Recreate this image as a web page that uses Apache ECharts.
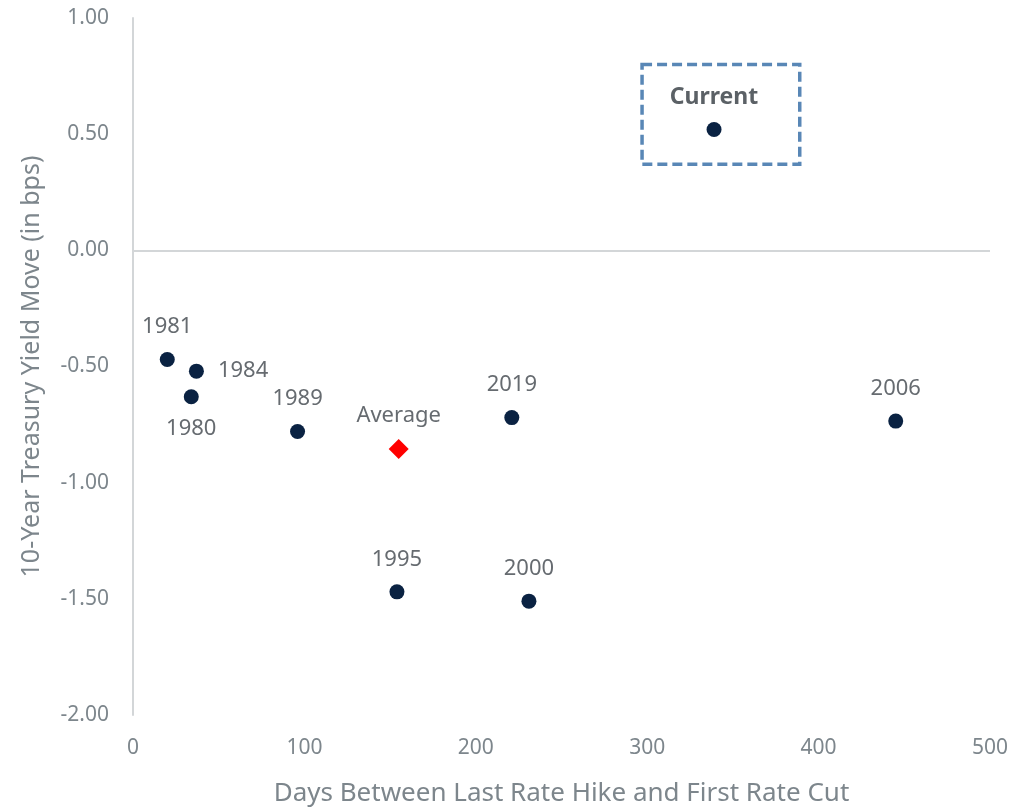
<!DOCTYPE html>
<html>
<head>
<meta charset="utf-8">
<script src="https://cdn.jsdelivr.net/npm/echarts@6/dist/echarts.min.js"></script>
<style>
  html, body { margin: 0; padding: 0; background: #ffffff; }
  #chart { width: 1013px; height: 812px; }
</style>
</head>
<body>
<div id="chart"></div>
<script>
// Easing cycles: days from last hike to first cut vs. 10Y yield move
const cycleLabels = ['1981', '1984', '1980', '1989', '1995', '2019', '2000', '2006'];
const cycleDays   = [20, 37, 34, 96, 154, 221, 231, 445];
const cycleMoves  = [-0.47, -0.52, -0.63, -0.78, -1.47, -0.72, -1.51, -0.735];
const cycleLabelPos = ['top', 'right', 'bottom', 'top', 'top', 'top', 'top', 'top'];

const averageLabel = 'Average';
const averageDays = 155;
const averageMove = -0.855;

const currentLabel = 'Current';
const currentDays = 339;
const currentMove = 0.52;
// highlight box around the current cycle, in data units
const currentBoxX = [297, 389];
const currentBoxY = [0.80, 0.37];

const xTicks = { min: 0, max: 500, interval: 100 };
const yTicks = { min: -2, max: 1, interval: 0.5 };

const FONT = '"Noto Sans", sans-serif';
const axisGray = '#7d868c';
const labelGray = '#666b70';
const dotColor = '#0a2242';

const chart = echarts.init(document.getElementById('chart'), null, { renderer: 'canvas' });

const cyclePoints = cycleDays.map((d, i) => ({
  value: [d, cycleMoves[i]],
  name: cycleLabels[i],
  label: { position: cycleLabelPos[i] }
}));

chart.setOption({
  animation: false,
  textStyle: { fontFamily: FONT },
  grid: { left: 133, right: 23, top: 18, bottom: 96, containLabel: false },
  xAxis: {
    type: 'value',
    min: xTicks.min, max: xTicks.max, interval: xTicks.interval,
    name: 'Days Between Last Rate Hike and First Rate Cut',
    nameLocation: 'middle',
    nameGap: 66,
    nameTextStyle: { color: axisGray, fontSize: 26, fontFamily: FONT },
    axisLine: { show: false },
    axisTick: { show: false },
    splitLine: { show: false },
    axisLabel: { color: axisGray, fontSize: 21, margin: 23, fontFamily: FONT }
  },
  yAxis: {
    type: 'value',
    min: yTicks.min, max: yTicks.max, interval: yTicks.interval,
    name: '10-Year Treasury Yield Move (in bps)',
    nameLocation: 'middle',
    nameGap: 89,
    nameTextStyle: { color: axisGray, fontSize: 25, fontFamily: FONT },
    axisLine: { show: true, onZero: false, lineStyle: { color: '#d3d6d8', width: 2 } },
    axisTick: { show: false },
    splitLine: { show: false },
    axisLabel: {
      color: axisGray, fontSize: 21, margin: 24, fontFamily: FONT,
      formatter: v => v.toFixed(2)
    }
  },
  series: [
    {
      type: 'scatter',
      symbol: 'circle',
      symbolSize: 15,
      itemStyle: { color: dotColor, opacity: 1 },
      data: cyclePoints,
      label: {
        show: true,
        formatter: p => p.name,
        color: labelGray,
        fontSize: 22,
        fontFamily: FONT,
        distance: 14
      },
      markLine: {
        silent: true,
        symbol: ['none', 'none'],
        label: { show: false },
        lineStyle: { color: '#d3d6d8', width: 2, type: 'solid' },
        data: [{ yAxis: 0 }]
      }
    },
    {
      type: 'scatter',
      symbol: 'diamond',
      symbolSize: 20,
      itemStyle: { color: '#ff0000', opacity: 1 },
      data: [{ value: [averageDays, averageMove], name: averageLabel }],
      label: {
        show: true, position: 'top', formatter: p => p.name,
        color: labelGray, fontSize: 22, fontFamily: FONT, distance: 12
      }
    },
    {
      type: 'scatter',
      symbol: 'circle',
      symbolSize: 15,
      itemStyle: { color: dotColor, opacity: 1 },
      data: [{ value: [currentDays, currentMove], name: currentLabel }],
      label: {
        show: true, position: 'top', formatter: p => p.name,
        color: '#5b6166', fontSize: 23, fontWeight: 'bold', fontFamily: FONT, distance: 13
      },
      markArea: {
        silent: true,
        itemStyle: {
          color: 'rgba(0,0,0,0)',
          borderColor: '#5987b6',
          borderWidth: 3.5,
          borderType: [10, 5]
        },
        data: [[
          { coord: [currentBoxX[0], currentBoxY[0]] },
          { coord: [currentBoxX[1], currentBoxY[1]] }
        ]]
      }
    }
  ]
});
</script>
</body>
</html>
